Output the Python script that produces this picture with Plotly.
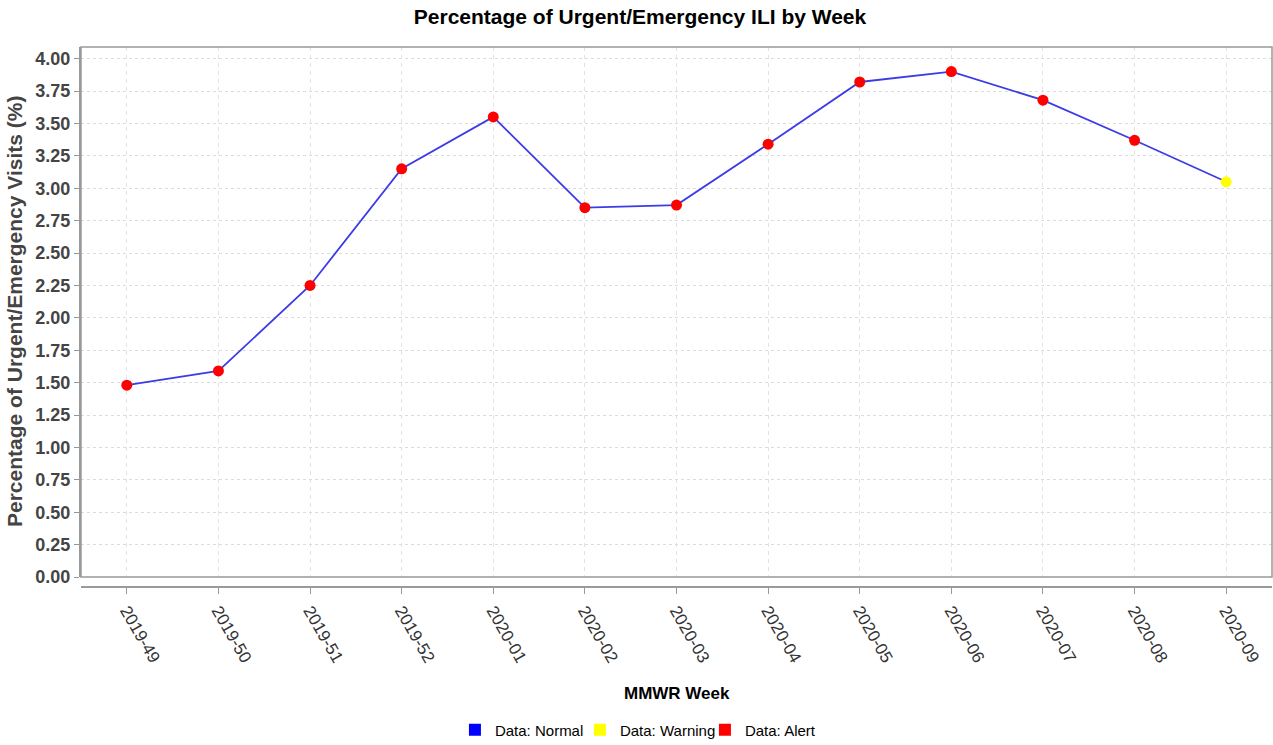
import plotly.graph_objects as go

weeks = ["2019-49", "2019-50", "2019-51", "2019-52", "2020-01", "2020-02", "2020-03",
         "2020-04", "2020-05", "2020-06", "2020-07", "2020-08", "2020-09"]
pct = [1.48, 1.59, 2.25, 3.15, 3.55, 2.85, 2.87, 3.34, 3.82, 3.90, 3.68, 3.37, 3.05]
status = ["Alert"] * 12 + ["Warning"]
legend_names = ["Data: Normal", "Data: Warning", "Data: Alert"]
status_colors = {"Normal": "#0000ff", "Warning": "#ffff00", "Alert": "#ff0000"}
y_ticks = [0.0, 0.25, 0.5, 0.75, 1.0, 1.25, 1.5, 1.75, 2.0, 2.25, 2.5, 2.75, 3.0, 3.25, 3.5, 3.75, 4.0]

W, H = 1273, 745
ML, MR, MT, MB = 81, 1, 47, 158
plot_h = H - MT - MB
ydom0 = 10 / plot_h

fig = go.Figure()
fig.add_trace(go.Scatter(
    x=weeks, y=pct, mode="lines+markers",
    line=dict(color="#3c3ce6", width=1.8),
    marker=dict(color=[status_colors[s] for s in status], size=11, line=dict(width=0)),
    showlegend=False, hoverinfo="x+y",
))
for name, key in zip(legend_names, ["Normal", "Warning", "Alert"]):
    fig.add_trace(go.Scatter(
        x=[None], y=[None], mode="markers", name=name,
        marker=dict(symbol="square", size=12, color=status_colors[key]),
    ))

fig.update_layout(
    width=W, height=H,
    margin=dict(l=ML, r=MR, t=MT, b=MB, autoexpand=False),
    plot_bgcolor="white", paper_bgcolor="white",
    font=dict(family="Liberation Sans, Arial, sans-serif", color="#444444"),
    title=dict(text="<b>Percentage of Urgent/Emergency ILI by Week</b>",
               x=640 / W, xanchor="center", y=1 - 17 / H, yanchor="middle",
               font=dict(size=21, color="#000000")),
    xaxis=dict(
        type="category", range=[-0.5, 12.5], anchor="free", position=0,
        automargin=False,
        showline=True, linecolor="#999999", linewidth=2,
        ticks="outside", ticklen=6, tickcolor="#999999", tickwidth=1,
        tickangle=60, tickfont=dict(size=17, color="#333333"),
        showgrid=True, gridcolor="#e3e3e3", griddash="4px,4px", gridwidth=1,
        zeroline=False,
    ),
    yaxis=dict(
        domain=[ydom0, 1], range=[0, 4.09], automargin=False,
        tickvals=y_ticks, ticktext=[f"<b>{v:.2f}</b>" for v in y_ticks],
        showline=True, linecolor="#999999", linewidth=2,
        ticks="outside", ticklen=5, tickcolor="#999999",
        tickfont=dict(size=18, color="#444444"),
        showgrid=True, gridcolor="#dcdcdc", griddash="3px,3px", gridwidth=1,
        zeroline=False,
    ),
    legend=dict(orientation="h", x=0.4714, xanchor="center",
                y=(587 - 730) / plot_h, yanchor="middle",
                font=dict(size=15, color="#000000"), itemwidth=30,
                entrywidth=80, entrywidthmode="pixels",
                tracegroupgap=0),
    annotations=[
        dict(text="<b>MMWR Week</b>", xref="paper", yref="paper",
             x=0.5, y=(587 - 693) / plot_h, xanchor="center", yanchor="middle",
             showarrow=False, font=dict(size=17, color="#000000")),
        dict(text="<b>Percentage of Urgent/Emergency Visits (%)</b>", xref="paper", yref="paper",
             x=(14 - ML) / (W - ML - MR), y=(587 - 312) / plot_h, xanchor="center", yanchor="middle",
             textangle=-90, showarrow=False, font=dict(size=21, color="#444444")),
    ],
    shapes=[
        dict(type="rect", xref="paper", yref="paper", x0=0, x1=1, y0=ydom0, y1=1,
             line=dict(color="#999999", width=1.5), layer="above"),
    ],
)

fig.write_html("out.html", config={"displayModeBar": False},
               post_script="document.body.style.margin='0';document.body.style.overflow='hidden';")
